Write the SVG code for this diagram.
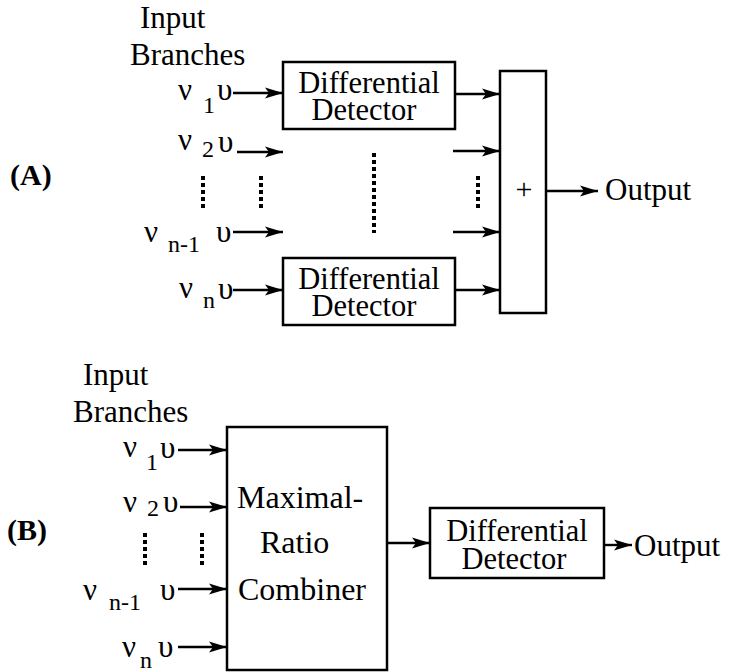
<svg xmlns="http://www.w3.org/2000/svg" width="741" height="672" viewBox="0 0 741 672">
<style>
text{font-family:'Liberation Serif','Times New Roman',serif;fill:#000}
.t{font-size:31px}
.d{font-size:30.5px}
.s{font-size:24px}
.b{font-weight:bold;font-size:30px}
.m{text-anchor:middle}
.box{fill:none;stroke:#000;stroke-width:2.5}
.ln{stroke:#000;stroke-width:2.4;fill:none}
.dot{stroke:#000;stroke-width:4;stroke-dasharray:4 3;fill:none}
</style>
<defs>
<marker id="ah" markerUnits="userSpaceOnUse" markerWidth="20" markerHeight="14" refX="18" refY="6" orient="auto">
<path d="M0,0.5 L18,6 L0,11.5 L4,6 z" fill="#000"/>
</marker>
</defs>
<rect width="741" height="672" fill="#fff"/>

<g id="labelA"><text class="b" x="10" y="185">(A)</text></g>
<g id="inputA"><text class="t" x="140" y="28">Input</text><text class="t" x="130" y="65">Branches</text></g>
<g id="a_in1"><text class="t"><tspan x="178" y="100">ν</tspan><tspan class="s" x="203" y="113">1</tspan><tspan x="217" y="100">υ</tspan></text></g>
<g id="a_in2"><text class="t"><tspan x="178" y="150">ν</tspan><tspan class="s" x="202" y="157">2</tspan><tspan x="218" y="152">υ</tspan></text></g>
<g id="a_inn1"><text class="t"><tspan x="144" y="242">ν</tspan><tspan class="s" x="168" y="252">n-1</tspan><tspan x="216" y="242">υ</tspan></text></g>
<g id="a_inn"><text class="t"><tspan x="179" y="298">ν</tspan><tspan class="s" x="203" y="308">n</tspan><tspan x="218" y="299">υ</tspan></text></g>

<g id="dd1"><rect class="box" x="283" y="62" width="172" height="67"/><text class="d m" x="369" y="93">Differential</text><text class="d m" x="364" y="120">Detector</text></g>
<g id="dd2"><rect class="box" x="283" y="258" width="172" height="67"/><text class="d m" x="369" y="289">Differential</text><text class="d m" x="364" y="316">Detector</text></g>
<g id="sum"><rect class="box" x="500" y="71" width="46" height="242"/><text class="m" x="524" y="199" style="font-size:30px">+</text></g>
<g id="outA"><text class="t" x="605" y="200">Output</text></g>

<g id="labelB"><text class="b" x="7" y="540">(B)</text></g>
<g id="inputB"><text class="t" x="83" y="385">Input</text><text class="t" x="73" y="422">Branches</text></g>
<g id="b_in1"><text class="t"><tspan x="123" y="457">ν</tspan><tspan class="s" x="146" y="470">1</tspan><tspan x="160" y="458">υ</tspan></text></g>
<g id="b_in2"><text class="t"><tspan x="123" y="512">ν</tspan><tspan class="s" x="147" y="516">2</tspan><tspan x="163" y="512">υ</tspan></text></g>
<g id="b_inn1"><text class="t"><tspan x="83" y="600">ν</tspan><tspan class="s" x="109" y="610">n-1</tspan><tspan x="160" y="600">υ</tspan></text></g>
<g id="b_inn"><text class="t"><tspan x="122" y="657">ν</tspan><tspan class="s" x="140" y="668">n</tspan><tspan x="158" y="657">υ</tspan></text></g>

<g id="mrc"><rect class="box" x="227" y="427" width="160" height="243"/><text x="237" y="508" style="font-size:32px">Maximal-</text><text x="260" y="553" style="font-size:32px">Ratio</text><text x="238" y="600" style="font-size:32px">Combiner</text></g>
<g id="ddB"><rect class="box" x="430" y="508" width="174" height="70"/><text class="d m" x="517" y="541">Differential</text><text class="d m" x="514" y="569">Detector</text></g>
<g id="outB"><text class="t" x="634" y="556">Output</text></g>

<g id="connectors">
<path class="ln" marker-end="url(#ah)" d="M233,93 H283"/>
<path class="ln" marker-end="url(#ah)" d="M237,152 H283"/>
<path class="ln" marker-end="url(#ah)" d="M233,232 H283"/>
<path class="ln" marker-end="url(#ah)" d="M233,290 H283"/>
<path class="ln" marker-end="url(#ah)" d="M455,94 H500"/>
<path class="ln" marker-end="url(#ah)" d="M453,151 H500"/>
<path class="ln" marker-end="url(#ah)" d="M453,232 H500"/>
<path class="ln" marker-end="url(#ah)" d="M455,290 H500"/>
<path class="ln" marker-end="url(#ah)" d="M546,191 H598"/>
<path class="dot" d="M203,176 V209"/>
<path class="dot" d="M261,176 V209"/>
<path class="dot" d="M374,153 V233"/>
<path class="dot" d="M478,176 V208"/>
<path class="ln" marker-end="url(#ah)" d="M178,450 H227"/>
<path class="ln" marker-end="url(#ah)" d="M180,507 H227"/>
<path class="ln" marker-end="url(#ah)" d="M178,589 H227"/>
<path class="ln" marker-end="url(#ah)" d="M178,647 H227"/>
<path class="ln" marker-end="url(#ah)" d="M387,543 H430"/>
<path class="ln" marker-end="url(#ah)" d="M604,545 H632"/>
<path class="dot" d="M145,533 V565"/>
<path class="dot" d="M202,533 V565"/>
</g>
</svg>
